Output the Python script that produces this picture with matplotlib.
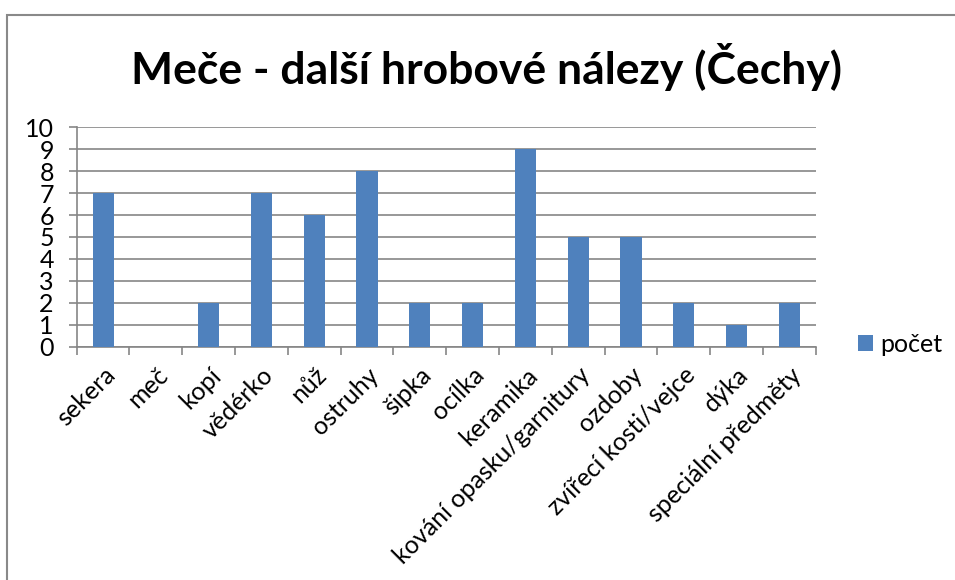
import matplotlib
matplotlib.use("Agg")
import matplotlib.pyplot as plt
from matplotlib.patches import Rectangle
import numpy as np

plt.rcParams['font.family'] = ['Lato', 'DejaVu Sans']

categories = ["sekera", "meč", "kopí", "vědérko", "nůž", "ostruhy", "šipka", "ocílka",
              "keramika", "kování opasku/garnitury", "ozdoby", "zvířecí kosti/vejce",
              "dýka", "speciální předměty"]
values = [7, 0, 2, 7, 6, 8, 2, 2, 9, 5, 5, 2, 1, 2]
series_name = "počet"
title = "Meče - další hrobové nálezy (Čechy)"
yticks = list(range(0, 11))

W, H = 955, 580
fig = plt.figure(figsize=(W/100, H/100), dpi=100)
fig.patch.set_facecolor('white')

# chart border
fig.patches.append(Rectangle((7/W, -0.2), 2.0, (H-15)/H + 0.2, transform=fig.transFigure,
                             fill=False, edgecolor='#898989', linewidth=1.5))

left, right = 76.7/W, 815.7/W
bottom, top = 1-346.7/H, 1-127.3/H
ax = fig.add_axes([left, bottom, right-left, top-bottom])

x = np.arange(len(categories))
bars = ax.bar(x, values, width=0.4, color='#4F81BD', label=series_name, zorder=3)

ax.set_xlim(-0.5, len(categories)-0.5)
ax.set_ylim(0, 10)
ax.set_yticks(yticks)
ax.yaxis.grid(True, color='#868686', linewidth=1.2, zorder=0)
for s in ['top', 'right']:
    ax.spines[s].set_visible(False)
for s in ['left', 'bottom']:
    ax.spines[s].set_color('#868686')
    ax.spines[s].set_linewidth(1.2)

gray = '#868686'
ax.tick_params(axis='y', direction='out', length=5.5, width=1.2, color=gray,
               labelsize=18, pad=11)
ax.set_xticks(x)
ax.set_xticks(np.arange(-0.5, len(categories), 1.0), minor=True)
ax.tick_params(axis='x', which='major', length=0, labelsize=18, pad=12)
ax.tick_params(axis='x', which='minor', direction='out', length=5.5, width=1.2, color=gray)
ax.set_xticklabels(categories, rotation=45, ha='right', va='top', rotation_mode='anchor')

fig.text(486/W, 1-67/H, title, ha='center', va='center', fontsize=32, fontweight='bold')

leg = ax.legend(loc='center left', bbox_to_anchor=(858/W, 1-344/H), bbox_transform=fig.transFigure,
                frameon=False, fontsize=18, handlelength=0.6, handleheight=0.6,
                handletextpad=0.3, borderpad=0, borderaxespad=0)

fig.savefig('out.png', dpi=100)
